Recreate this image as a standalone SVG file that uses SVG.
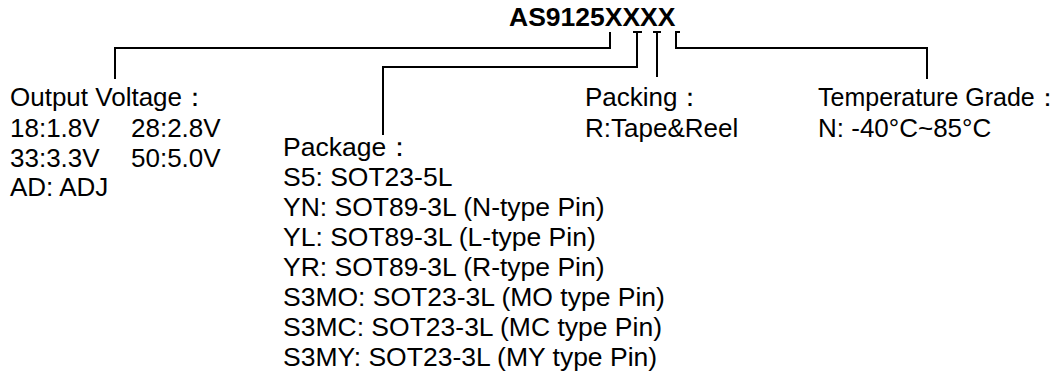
<svg xmlns="http://www.w3.org/2000/svg" width="1063" height="388" viewBox="0 0 1063 388">
<style>
text{font-family:"Liberation Sans",Arial,sans-serif;font-size:26px;fill:#000}
.t{font-weight:bold;font-size:26.5px}
.s{font-size:25px}
.p{font-size:26.5px}
.c{fill:none;stroke:#000;stroke-width:2}
</style>
<rect width="1063" height="388" fill="#fff"/>
<g id="title"><text class="t" x="509" y="26">AS9125XXXX</text></g>
<g id="connectors">
<path class="c" d="M610,32V48H115V79"/>
<path class="c" d="M633,32H642M637,32V67H383V135"/>
<path class="c" d="M653,32H661M657,32V77"/>
<path class="c" d="M680,32H676V48H927V79"/>
</g>
<g id="output-voltage">
<text x="10" y="106">Output Voltage：</text>
<text x="10" y="137">18:1.8V</text><text x="131" y="137">28:2.8V</text>
<text x="10" y="167">33:3.3V</text><text x="131" y="167">50:5.0V</text>
<text x="10" y="196">AD: ADJ</text>
</g>
<g id="package">
<text class="p" x="283" y="156">Package：</text>
<text class="p" x="283" y="186">S5: SOT23-5L</text>
<text class="p" x="283" y="216">YN: SOT89-3L (N-type Pin)</text>
<text class="p" x="283" y="246">YL: SOT89-3L (L-type Pin)</text>
<text class="p" x="283" y="276">YR: SOT89-3L (R-type Pin)</text>
<text class="p" x="283" y="306">S3MO: SOT23-3L (MO type Pin)</text>
<text class="p" x="283" y="336">S3MC: SOT23-3L (MC type Pin)</text>
<text class="p" x="283" y="366">S3MY: SOT23-3L (MY type Pin)</text>
</g>
<g id="packing">
<text x="585" y="106">Packing：</text>
<text x="585" y="137">R:Tape&amp;Reel</text>
</g>
<g id="temperature">
<text class="s" x="818" y="106">Temperature Grade：</text>
<text x="818" y="137">N: -40°C~85°C</text>
</g>
</svg>
